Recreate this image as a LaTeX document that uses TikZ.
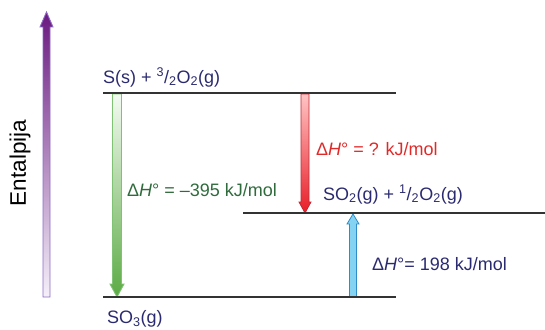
\documentclass[tikz,border=0pt]{standalone}
\usepackage{fontspec}
\setmainfont{Liberation Sans}
\definecolor{navy}{HTML}{2B2A70}
\definecolor{dgreen}{HTML}{2F6B3C}
\definecolor{dred}{HTML}{E02A2A}
\definecolor{lvlgray}{HTML}{333333}
\definecolor{purp}{HTML}{6A1A80}
\definecolor{purpl}{HTML}{F5F0FA}
\definecolor{purpo}{HTML}{8C6BC4}
\definecolor{grn}{HTML}{5BAA44}
\definecolor{grnl}{HTML}{F4FAF2}
\definecolor{grno}{HTML}{7FC274}
\definecolor{redd}{HTML}{E81E28}
\definecolor{redl}{HTML}{FFC4C4}
\definecolor{redo}{HTML}{C02A35}
\definecolor{blu}{HTML}{84D3F2}
\definecolor{bluo}{HTML}{2E8CC8}
\begin{document}
\begin{tikzpicture}[x=1pt,y=-1pt,
  lvl/.style={draw=lvlgray,line width=2pt},
  lbl/.style={font=\fontsize{18}{21}\selectfont,inner sep=0pt,anchor=base west}]
\useasboundingbox (0,0) rectangle (545,329);
% enthalpy axis arrow
\path[draw=purpo,line width=0.9pt,top color=purp,bottom color=purpl]
  (43,297)--(43,27)--(40,27)--(46.5,12)--(53,27)--(50,27)--(50,297)--cycle;
\node[rotate=90,font=\fontsize{22.5}{24}\selectfont,inner sep=0pt] (ent) at (20,163) {Entalpija};
% green arrow
\path[draw=grno,line width=0.9pt,top color=grnl,bottom color=grn]
  (112.5,94)--(112.5,284)--(110,284)--(117,297)--(124,284)--(121.5,284)--(121.5,94)--cycle;
% red arrow
\path[draw=redo,line width=0.8pt,top color=redl,bottom color=redd]
  (301,94)--(301,202)--(299,202)--(305,213)--(311,202)--(309,202)--(309,94)--cycle;
% blue arrow
\path[draw=bluo,line width=0.8pt,fill=blu]
  (349.5,297)--(349.5,224)--(347,224)--(353,214)--(359,224)--(356.5,224)--(356.5,297)--cycle;
% levels
\coordinate (t1) at (103,93); \coordinate (t2) at (396,93);
\coordinate (b1) at (103,297); \coordinate (b2) at (396,297);
\coordinate (m1) at (243,213); \coordinate (m2) at (545,213);
\draw[lvl] (t1) -- (t2);
\draw[lvl] (b1) -- (b2);
\draw[lvl] (m1) -- (m2);
% labels
\node[lbl,text=navy] (top) at (103,83) {S(s) + \textsuperscript{3}/\textsubscript{2}O\textsubscript{2}(g)};
\node[lbl,text=navy] (bot) at (107,323.5) {SO\textsubscript{3}(g)};
\node[lbl,text=navy] (mid) at (323,200) {SO\textsubscript{2}(g) + \textsuperscript{1}/\textsubscript{2}O\textsubscript{2}(g)};
\node[lbl,text=dgreen] (hg) at (127,196) {Δ\textit{H}° = –395 kJ/mol};
\node[lbl,text=dred] (hr) at (316,155) {Δ\textit{H}° = ? kJ/mol};
\node[lbl,text=navy] (hb) at (372,270) {Δ\textit{H}°= 198 kJ/mol};
\end{tikzpicture}
\end{document}
